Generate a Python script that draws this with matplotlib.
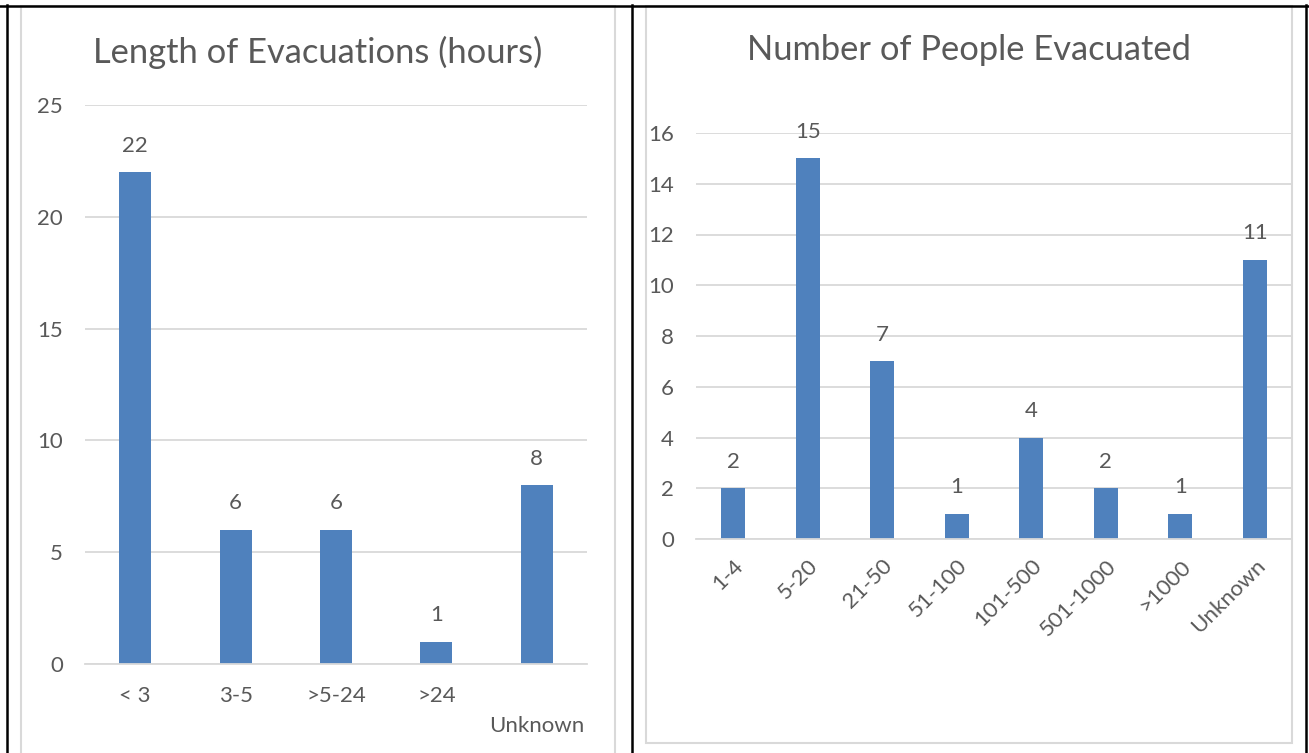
import numpy as np
from matplotlib import pyplot as plt
from matplotlib.lines import Line2D
from matplotlib.patches import Rectangle

# data
length_cats = ["< 3", "3-5", ">5-24", ">24", "\nUnknown"]
length_vals = [22, 6, 6, 1, 8]

people_cats = ["1-4", "5-20", "21-50", "51-100", "101-500", "501-1000", ">1000", "Unknown"]
people_vals = [2, 15, 7, 1, 4, 2, 1, 11]

bar_color = "#4F81BD"
grid_color = "#D9D9D9"
text_color = "#595959"

plt.rcParams['font.family'] = ['Lato', 'DejaVu Sans']

W, H = 1309, 753
fig = plt.figure(figsize=(W / 100, H / 100), dpi=100)


def fx(px):
    return px / W


def fy(py):
    return 1 - py / H


def style_axes(ax, ymax, step):
    ax.set_ylim(0, ymax)
    ax.set_yticks(np.arange(0, ymax + 0.1, step))
    ax.yaxis.grid(True, color=grid_color, linewidth=1.3)
    ax.set_axisbelow(True)
    for s in ['top', 'right', 'left']:
        ax.spines[s].set_visible(False)
    ax.spines['bottom'].set_color(grid_color)
    ax.spines['bottom'].set_linewidth(1.3)
    ax.tick_params(axis='both', length=0, labelcolor=text_color, labelsize=16)
    ax.tick_params(axis='y', pad=16)


def label_bars(ax, x, vals):
    for xi, v in zip(x, vals):
        ax.annotate(str(v), (xi, v), xytext=(0, 19), textcoords='offset points',
                    ha='center', va='center', fontsize=16, color=text_color)


# left chart
ax1 = fig.add_axes([fx(85), fy(664), fx(587) - fx(85), fy(105) - fy(664)])
x1 = np.arange(len(length_vals))
ax1.bar(x1, length_vals, width=0.32, color=bar_color)
ax1.set_xlim(-0.5, len(length_vals) - 0.5)
style_axes(ax1, 25, 5)
ax1.set_xticks(x1)
ax1.set_xticklabels(length_cats)
ax1.tick_params(axis='x', pad=16)
ax1.get_xticklabels()[-1].set_linespacing(1.6)
label_bars(ax1, x1, length_vals)
fig.text(fx(318), fy(52), "Length of Evacuations (hours)", ha='center', va='center',
         fontsize=24.8, color=text_color)

# right chart
ax2 = fig.add_axes([fx(696), fy(539), fx(1292) - fx(696), fy(133) - fy(539)])
x2 = np.arange(len(people_vals))
ax2.bar(x2, people_vals, width=0.32, color=bar_color)
ax2.set_xlim(-0.5, len(people_vals) - 0.5)
style_axes(ax2, 16, 2)
ax2.set_xticks(x2)
ax2.set_xticklabels(people_cats, rotation=45, ha='right', rotation_mode='anchor')
ax2.tick_params(axis='x', pad=12)
label_bars(ax2, x2, people_vals)
fig.text(fx(969), fy(50), "Number of People Evacuated", ha='center', va='center',
         fontsize=24.8, color=text_color)

# chart frames (light grey) and table borders (black)
fig.add_artist(Rectangle((fx(21), fy(760)), fx(615) - fx(21), fy(6) - fy(760),
                         transform=fig.transFigure, fill=False, edgecolor=grid_color, linewidth=1.5))
fig.add_artist(Rectangle((fx(646), fy(743)), fx(1292) - fx(646), fy(6) - fy(743),
                         transform=fig.transFigure, fill=False, edgecolor=grid_color, linewidth=1.5))

for xs, ys in [([0, W], [5.5, 5.5]), ([7, 7], [5, H]), ([632, 632], [5, H]), ([1306, 1306], [5, H])]:
    fig.add_artist(Line2D([fx(v) for v in xs], [fy(v) for v in ys], color='black',
                          linewidth=1.8, transform=fig.transFigure))

fig.savefig("out.png", dpi=100)
